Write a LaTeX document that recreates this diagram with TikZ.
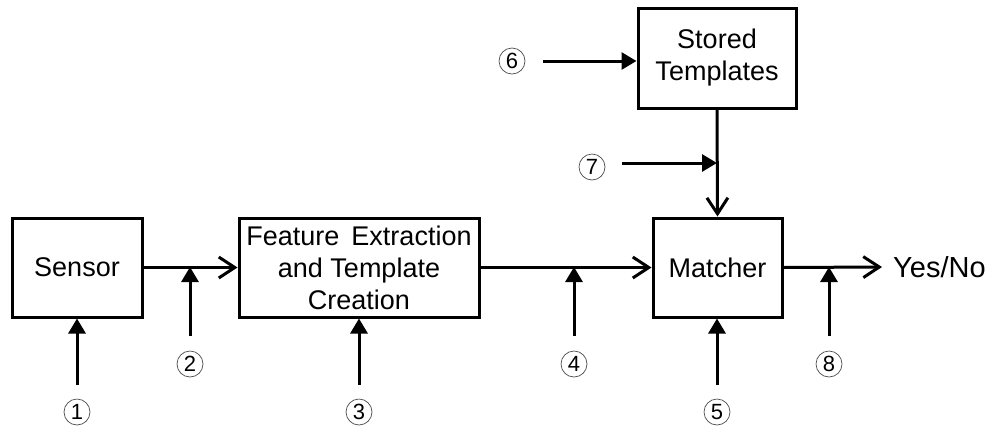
\documentclass[tikz,border=0pt]{standalone}
\usepackage{fontspec}
\setmainfont{Liberation Sans}
\usetikzlibrary{arrows.meta}
\begin{document}
\begin{tikzpicture}[x=1pt,y=-1pt,
  blk/.style={draw,line width=3pt,minimum width=#1,minimum height=99pt,align=center,inner sep=0pt,font=\fontsize{27}{32}\selectfont},
  flow/.style={line width=3pt,-{Straight Barb[length=16pt,width=21pt,line width=3pt]}},
  atk/.style={line width=3pt,-{Triangle[length=15pt,width=17pt]}},
  num/.style={draw,circle,line width=0.7pt,draw=black!70,minimum size=26pt,inner sep=0pt,font=\fontsize{22}{22}\selectfont}]
\useasboundingbox (0,0) rectangle (996,429);
\node[blk=130pt] (sensor) at (77,267.5) {Sensor};
\node[blk=240pt] (feat) at (359,267.5) {Feature\, Extraction\\and Template\\Creation};
\node[blk=129pt] (match) at (717.5,267.5) {Matcher};
\node[blk=158pt,minimum height=100pt] (stored) at (717,58) {Stored\\Templates};
\node[anchor=west,font=\fontsize{29}{29}\selectfont,inner sep=0pt] (yes) at (893,267) {Yes/No};
\coordinate (yesin) at (882,267);
\draw[flow] (sensor.east) -- (feat.west);
\draw[flow] (feat.east) -- (match.west);
\draw[flow] (match.east) -- (yesin);
\draw[flow] (stored.south) -- (match.north);
% attack points
\node[num] (n1) at (77,412) {1};
\node[num] (n2) at (190,364) {2};
\node[num] (n3) at (359,412) {3};
\node[num] (n4) at (574,364) {4};
\node[num] (n5) at (717,412) {5};
\node[num] (n6) at (512,61) {6};
\node[num] (n7) at (592,167) {7};
\node[num] (n8) at (829,364) {8};
\coordinate (s1) at (77,385);
\coordinate (s2) at (190,336);
\coordinate (t2) at (190,267);
\coordinate (s3) at (359,385);
\coordinate (s4) at (574,336);
\coordinate (t4) at (574,267);
\coordinate (s5) at (717,385);
\coordinate (s6) at (543,61);
\coordinate (s7) at (622,163);
\coordinate (t7) at (717,163);
\coordinate (s8) at (829,336);
\coordinate (t8) at (829,267);
\draw[atk] (s1) -- (sensor.south);
\draw[atk] (s2) -- (t2);
\draw[atk] (s3) -- (feat.south);
\draw[atk] (s4) -- (t4);
\draw[atk] (s5) -- (s5 |- match.south);
\draw[atk] (s6) -- (s6 -| stored.west);
\draw[atk] (s7) -- (t7);
\draw[atk] (s8) -- (t8);
\end{tikzpicture}
\end{document}
